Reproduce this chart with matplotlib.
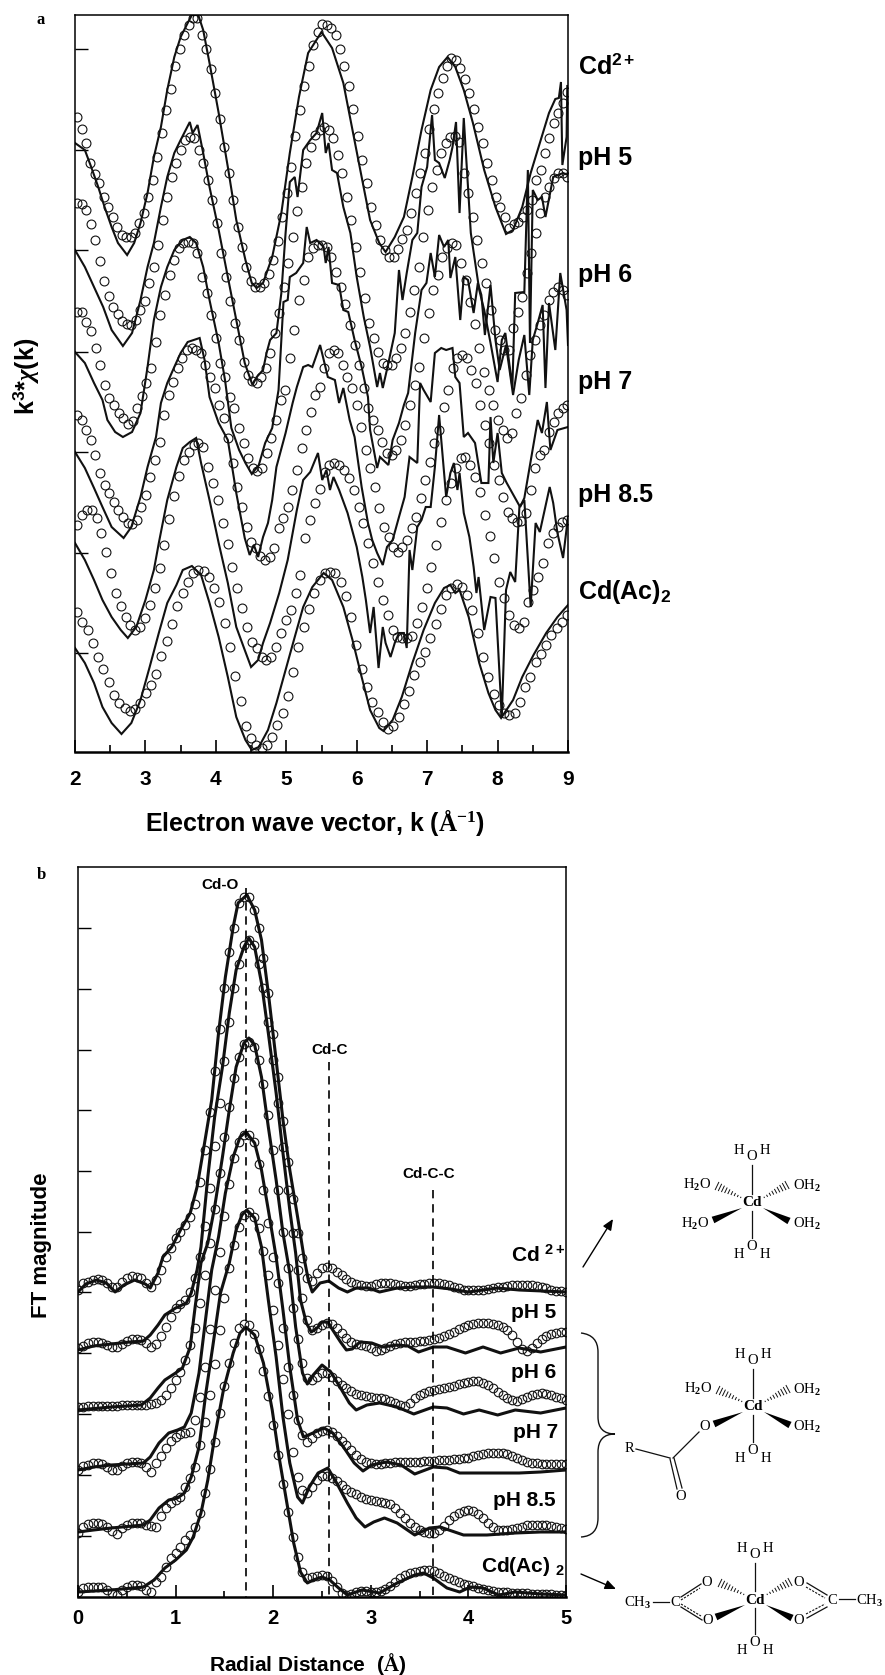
import numpy as np
import matplotlib
matplotlib.use("Agg")
import matplotlib.pyplot as plt
from matplotlib.path import Path
from matplotlib.patches import PathPatch, Polygon

plt.rcParams.update({
    'font.family': 'Liberation Sans', 'font.weight': 'bold',
    'mathtext.fontset': 'custom', 'mathtext.bf': 'Liberation Serif:bold',
    'mathtext.rm': 'Liberation Serif', 'mathtext.sf': 'Liberation Sans:bold',
    'mathtext.it': 'Liberation Serif:italic',
})

# ---------- Panel a: k3*chi(k), stacked (arbitrary units, increasing downward)
a_names = [r"Cd$^{\mathsf{2+}}$", "pH 5", "pH 6", "pH 7", "pH 8.5", r"Cd(Ac)$_{\mathsf{2}}$"]
a_label_pos = [66, 158, 275, 382, 495, 592]
a_yticks = [49, 150, 250, 352, 452, 553, 653]

fit_cd = [117,129,143,163,174,183,197,207,217,227,235,237,237,233,223,213,197,180,157,133,110,89,66,49,35,25,18,18,35,49,69,93,119,147,173,200,227,247,267,281,287,287,283,274,260,241,217,193,167,136,110,86,66,45,32,24,25,28,35,49,66,86,109,136,160,183,207,225,240,250,257,257,249,239,230,213,193,173,153,129,109,93,78,66,58,60,68,79,93,109,127,143,163,180,197,207,217,228,224,222,217,210,200,180,170,153,138,123,113,103,92]
fit_ph5 = [203,204,210,224,240,261,281,296,307,314,321,324,325,320,310,301,283,267,245,220,197,177,163,150,140,137,138,150,163,180,200,223,253,277,301,323,340,362,375,381,383,377,368,353,333,313,287,263,237,211,187,163,147,135,130,127,130,138,155,173,197,220,247,272,298,323,338,352,363,365,365,358,348,333,312,290,267,237,210,187,170,153,143,137,136,142,173,193,217,240,263,283,310,330,340,350,350,328,312,297,273,253,233,213,197,187,178,173,173,177]
fit_ph6 = [312,312,322,331,348,365,385,398,405,413,418,424,421,408,396,383,368,342,315,295,275,260,248,243,242,243,253,277,293,315,338,363,377,397,408,428,443,458,468,471,468,453,438,420,400,390,358,330,300,280,257,248,245,245,247,257,272,287,304,325,345,365,388,408,420,430,442,453,455,450,440,425,405,385,367,338,313,290,275,257,248,243,245,263,280,302,324,348,372,390,405,420,430,438,433,413,398,375,355,340,325,315,300,292,287,290,295]
fit_ph7 = [415,420,430,440,455,473,485,493,502,510,517,523,524,520,507,495,477,460,442,415,395,382,368,358,350,348,350,353,365,377,388,405,418,438,463,487,507,527,542,548,556,560,557,548,528,518,507,490,470,448,430,412,395,387,368,353,350,353,365,377,388,405,427,450,468,487,508,527,537,547,552,547,540,528,517,498,480,462,443,430,407,390,368,358,355,358,370,383,405,425,443,465,480,497,512,518,522,521,513,490,468,455,450,432,422,413,408,405]
fit_ph85 = [525,515,510,510,518,533,552,573,593,606,617,625,630,627,618,605,588,568,545,519,496,476,460,452,445,443,447,467,483,500,523,544,567,588,608,627,642,648,657,660,657,647,633,620,610,593,575,538,520,503,489,472,465,463,465,470,478,490,507,523,543,563,582,600,615,630,637,638,638,636,623,607,588,567,545,522,500,483,468,458,457,465,477,492,515,536,558,582,598,615,625,628,622,602,590,577,563,543,533,527,522,520]
fit_ac = [612,622,630,643,657,669,682,695,703,708,711,709,703,693,685,674,656,641,624,606,593,582,573,570,571,577,588,602,623,647,676,701,726,738,745,748,745,737,725,713,696,672,647,627,609,593,580,573,572,573,582,596,617,645,669,687,702,712,722,729,726,717,704,691,675,662,652,638,624,609,595,588,584,587,595,610,633,657,677,694,705,713,715,713,702,687,677,662,654,645,635,628,622,615]

exp_cd = [(2,143),(2.14,150),(2.23,167),(2.33,187),(2.42,207),(2.52,227),(2.61,243),(2.74,255),(2.84,243),(2.93,223),(3.03,193),(3.12,157),(3.22,127),(3.31,90),(3.41,57),(3.5,37),(3.6,23),(3.66,15),(3.75,15),(3.82,30),(3.91,63),(4.04,113),(4.17,167),(4.29,220),(4.42,260),(4.51,283),(4.58,288),(4.67,283),(4.8,257),(4.93,213),(5.05,153),(5.18,97),(5.31,53),(5.5,32),(5.65,48),(5.81,83),(5.94,130),(6.07,177),(6.19,220),(6.32,243),(6.41,252),(6.54,237),(6.67,217),(6.79,177),(6.92,130),(7.05,90),(7.17,67),(7.29,57),(7.4,67),(7.52,90),(7.65,123),(7.81,170),(7.97,207),(8.12,234),(8.22,230),(8.35,207),(8.47,173),(8.6,143),(8.73,113),(8.82,99),(8.87,98),(8.9,82),(8.92,165),(8.98,137),(8.99,86),(9,86)]
exp_ph5 = [(2,250),(2.14,267),(2.27,287),(2.4,307),(2.52,330),(2.68,346),(2.81,333),(2.93,300),(3.03,267),(3.12,243),(3.22,207),(3.31,177),(3.41,153),(3.5,140),(3.63,122),(3.67,133),(3.74,125),(3.82,153),(3.91,187),(4.04,230),(4.17,277),(4.29,320),(4.41,363),(4.52,385),(4.58,377),(4.67,370),(4.72,353),(4.77,340),(4.86,333),(4.93,293),(4.99,233),(5.05,182),(5.12,177),(5.16,197),(5.24,150),(5.34,140),(5.43,133),(5.51,113),(5.56,153),(5.6,143),(5.65,170),(5.72,173),(5.81,207),(5.91,233),(6.0,277),(6.1,317),(6.19,347),(6.29,387),(6.33,373),(6.37,388),(6.45,363),(6.54,333),(6.6,270),(6.65,300),(6.71,273),(6.79,240),(6.86,233),(6.92,187),(7.0,167),(7.07,115),(7.11,160),(7.17,163),(7.25,178),(7.32,160),(7.36,147),(7.41,122),(7.46,213),(7.52,118),(7.62,233),(7.74,290),(7.81,310),(7.9,343),(8.0,382),(8.06,340),(8.11,333),(8.21,387),(8.25,293),(8.38,292),(8.43,170),(8.46,343),(8.5,190),(8.57,200),(8.63,197),(8.68,217),(8.79,177),(8.93,173),(9,175)]
exp_ph6 = [(2,352),(2.14,363),(2.27,383),(2.39,400),(2.46,420),(2.57,432),(2.68,437),(2.81,432),(2.93,413),(3.03,367),(3.12,320),(3.22,287),(3.31,267),(3.41,250),(3.53,240),(3.63,237),(3.72,243),(3.82,267),(3.91,300),(4.04,343),(4.13,380),(4.22,428),(4.33,450),(4.42,463),(4.51,474),(4.61,465),(4.7,443),(4.8,428),(4.89,390),(4.96,302),(5.02,300),(5.05,277),(5.14,273),(5.24,263),(5.29,227),(5.34,243),(5.43,240),(5.53,247),(5.56,263),(5.6,247),(5.65,283),(5.75,285),(5.81,310),(5.88,312),(5.97,340),(6.07,367),(6.16,397),(6.19,430),(6.29,468),(6.33,457),(6.45,465),(6.51,440),(6.6,423),(6.67,405),(6.73,393),(6.83,333),(6.92,290),(6.99,283),(7.05,253),(7.11,277),(7.17,235),(7.24,247),(7.3,240),(7.33,278),(7.4,257),(7.47,320),(7.52,277),(7.58,280),(7.66,313),(7.72,283),(7.77,295),(7.82,335),(7.9,285),(7.97,340),(8.03,370),(8.12,345),(8.22,395),(8.3,360),(8.38,335),(8.45,395),(8.5,340),(8.57,323),(8.64,305),(8.68,388),(8.73,303),(8.82,350),(8.89,273),(8.98,310),(9,345)]
exp_ph7 = [(2,452),(2.14,468),(2.27,488),(2.39,507),(2.52,527),(2.69,538),(2.8,527),(2.93,497),(3.03,467),(3.15,437),(3.22,403),(3.31,383),(3.41,367),(3.5,353),(3.6,342),(3.77,338),(3.84,360),(3.91,397),(4.04,423),(4.17,440),(4.29,493),(4.41,538),(4.48,555),(4.54,545),(4.6,557),(4.67,537),(4.74,523),(4.8,500),(4.86,467),(4.99,433),(5.09,403),(5.15,387),(5.24,367),(5.31,365),(5.37,367),(5.48,345),(5.59,377),(5.69,380),(5.75,403),(5.81,388),(5.9,420),(5.97,437),(6.07,487),(6.16,523),(6.22,540),(6.29,553),(6.37,565),(6.43,547),(6.51,540),(6.6,517),(6.68,497),(6.75,457),(6.86,463),(6.9,383),(6.95,390),(7.05,402),(7.11,353),(7.2,348),(7.27,350),(7.36,348),(7.4,377),(7.46,383),(7.52,437),(7.58,433),(7.68,443),(7.77,483),(7.87,483),(7.9,417),(7.94,463),(8.0,433),(8.06,473),(8.13,483),(8.32,507),(8.38,498),(8.57,420),(8.63,433),(8.7,402),(8.75,450),(8.85,430),(9,427)]
exp_ph85 = [(2,543),(2.14,560),(2.27,580),(2.39,600),(2.52,617),(2.65,630),(2.75,638),(2.87,627),(3.0,600),(3.12,570),(3.19,543),(3.31,500),(3.44,467),(3.53,448),(3.63,442),(3.72,438),(3.79,463),(3.91,500),(4.04,543),(4.17,583),(4.29,627),(4.41,650),(4.5,667),(4.6,660),(4.67,643),(4.72,633),(4.77,623),(4.9,593),(5.02,560),(5.15,510),(5.24,480),(5.34,472),(5.45,453),(5.51,480),(5.57,470),(5.62,490),(5.67,477),(5.75,490),(5.87,513),(6.0,547),(6.08,577),(6.13,600),(6.19,633),(6.24,607),(6.31,668),(6.37,627),(6.41,643),(6.48,657),(6.54,643),(6.6,633),(6.67,633),(6.71,648),(6.75,550),(6.79,570),(6.86,527),(6.92,520),(6.98,507),(7.05,507),(7.11,467),(7.17,415),(7.27,497),(7.33,473),(7.38,463),(7.43,490),(7.46,473),(7.52,513),(7.6,537),(7.66,567),(7.7,593),(7.73,577),(7.81,630),(7.9,597),(7.97,598),(8.06,717),(8.12,590),(8.18,572),(8.25,582),(8.31,507),(8.38,500),(8.47,607),(8.54,523),(8.6,532),(8.74,487),(8.79,503),(8.85,533),(8.93,558),(9,517)]
exp_ac = [(2,648),(2.14,663),(2.27,683),(2.39,707),(2.52,723),(2.66,734),(2.8,723),(2.93,700),(3.06,667),(3.19,633),(3.31,603),(3.44,585),(3.53,570),(3.66,566),(3.79,575),(3.91,603),(4.04,637),(4.17,677),(4.29,717),(4.42,740),(4.51,750),(4.61,747),(4.74,730),(4.86,703),(4.99,670),(5.12,637),(5.24,607),(5.37,587),(5.53,573),(5.65,580),(5.81,607),(5.94,640),(6.07,677),(6.19,710),(6.32,728),(6.38,731),(6.51,720),(6.64,697),(6.79,663),(6.95,630),(7.11,603),(7.24,588),(7.33,585),(7.4,593),(7.46,590),(7.59,617),(7.74,663),(7.87,693),(7.97,710),(8.05,718),(8.22,700),(8.35,677),(8.51,655),(8.69,633),(8.85,617),(9,605)]

# ---------- Panel b: FT magnitude, stacked (R grid 0.05 A)
b_names = [r"Cd $^{\mathsf{2+}}$", "pH 5", "pH 6", "pH 7", "pH 8.5", r"Cd(Ac) $_{\mathsf{2}}$"]
b_label_pos = [1255, 1313, 1372, 1433, 1500, 1567]
b_label_right = [565, 556, 556, 558, 556, 565]
b_yticks = [928, 989, 1050, 1110, 1171, 1232, 1292, 1353, 1414, 1475, 1536]
shell_r = [1.72, 2.57, 3.64]
shell_top = [888, 1062, 1190]
shell_names = ["Cd-O", "Cd-C", "Cd-C-C"]

ft_fit_cd = [1290,1283,1282,1280,1279,1280,1283,1287,1287,1282,1278,1276,1277,1278,1283,1287,1280,1270,1257,1248,1238,1232,1225,1217,1204,1182,1150,1112,1071,1029,988,952,928,903,897,897,910,928,958,993,1034,1077,1121,1162,1199,1233,1258,1278,1281,1273,1268,1267,1268,1272,1275,1279,1282,1284,1285,1286,1286,1284,1283,1283,1283,1284,1285,1286,1286,1285,1284,1284,1283,1283,1283,1284,1285,1287,1288,1290,1290,1290,1290,1290,1289,1288,1287,1287,1286,1285,1285,1285,1285,1285,1286,1287,1288,1290,1291,1291,1292]
ft_fit_ph5 = [1348,1346,1343,1342,1342,1343,1345,1347,1347,1344,1341,1339,1339,1340,1343,1347,1344,1336,1327,1317,1308,1304,1300,1292,1278,1257,1226,1188,1146,1103,1061,1022,988,964,945,940,945,964,988,1022,1060,1103,1147,1190,1233,1270,1298,1320,1330,1328,1325,1323,1324,1328,1333,1338,1342,1344,1345,1346,1348,1351,1350,1348,1346,1344,1343,1342,1342,1342,1341,1341,1340,1339,1338,1336,1334,1332,1329,1327,1325,1324,1323,1323,1323,1324,1325,1327,1330,1335,1342,1349,1351,1348,1343,1339,1336,1334,1333,1332,1332]
ft_fit_ph6 = [1407,1407,1406,1406,1406,1406,1406,1406,1406,1405,1405,1405,1405,1405,1405,1404,1403,1400,1395,1388,1380,1372,1360,1345,1328,1303,1275,1243,1209,1173,1137,1107,1078,1057,1044,1042,1047,1060,1084,1115,1150,1190,1232,1268,1308,1339,1363,1378,1380,1377,1373,1373,1377,1381,1385,1388,1391,1394,1395,1396,1397,1398,1398,1399,1401,1403,1405,1406,1403,1398,1395,1393,1391,1390,1389,1388,1387,1386,1384,1383,1382,1381,1381,1383,1385,1388,1392,1395,1398,1400,1401,1399,1397,1395,1394,1393,1394,1395,1397,1398,1400]
ft_fit_ph7 = [1470,1466,1465,1463,1463,1464,1467,1470,1470,1466,1463,1462,1462,1463,1467,1472,1463,1456,1448,1441,1437,1434,1433,1432,1420,1397,1367,1329,1290,1252,1216,1184,1158,1142,1135,1135,1142,1164,1190,1223,1257,1283,1328,1367,1395,1420,1435,1442,1438,1433,1431,1430,1432,1436,1441,1445,1450,1455,1459,1462,1463,1464,1464,1463,1463,1462,1462,1462,1462,1462,1462,1461,1461,1461,1460,1460,1460,1459,1459,1458,1458,1456,1455,1454,1453,1453,1453,1453,1454,1456,1458,1460,1462,1463,1463,1464,1464,1464,1464,1464,1464]
ft_fit_ph85 = [1533,1527,1524,1523,1523,1524,1527,1531,1534,1528,1525,1523,1523,1523,1525,1526,1527,1516,1508,1503,1500,1497,1487,1478,1467,1445,1422,1395,1364,1330,1298,1268,1245,1227,1215,1212,1217,1228,1251,1275,1310,1345,1379,1414,1452,1477,1490,1493,1487,1480,1476,1476,1478,1481,1485,1489,1492,1494,1497,1499,1500,1501,1502,1503,1504,1508,1513,1518,1523,1527,1530,1532,1533,1533,1530,1526,1520,1516,1513,1511,1510,1511,1514,1518,1523,1527,1530,1530,1530,1529,1528,1527,1525,1525,1525,1525,1525,1526,1527,1528,1529]
ft_fit_ac = [1592,1588,1587,1587,1587,1587,1590,1593,1595,1590,1587,1585,1585,1586,1590,1592,1582,1577,1567,1558,1553,1547,1540,1535,1527,1513,1493,1469,1442,1413,1386,1363,1343,1328,1324,1325,1334,1349,1371,1396,1425,1455,1484,1512,1537,1557,1572,1578,1577,1576,1575,1576,1581,1587,1593,1595,1594,1592,1591,1591,1592,1592,1591,1589,1586,1582,1578,1575,1573,1572,1571,1570,1570,1571,1573,1576,1578,1580,1582,1584,1585,1586,1588,1589,1590,1591,1592,1592,1592,1593,1593,1593,1593,1594,1594,1594,1594,1594,1595,1595,1595]

ft_exp_cd = [(0,1292),(.08,1284),(.19,1280),(.29,1283),(.38,1292),(.47,1285),(.58,1280),(.69,1284),(.74,1288),(.82,1273),(.87,1257),(.96,1247),(1.05,1230),(1.15,1213),(1.22,1187),(1.29,1147),(1.37,1100),(1.44,1033),(1.51,977),(1.59,927),(1.64,903),(1.73,895),(1.81,910),(1.88,940),(1.95,993),(2.03,1060),(2.1,1120),(2.17,1170),(2.25,1217),(2.32,1260),(2.36,1280),(2.4,1292),(2.48,1283),(2.57,1281),(2.67,1288),(2.76,1292),(2.85,1288),(2.98,1288),(3.09,1292),(3.27,1288),(3.45,1287),(3.64,1287),(3.82,1289),(4.0,1292),(4.3,1288),(4.52,1290),(5,1292)]
ft_exp_ph5 = [(0,1350),(.16,1346),(.34,1344),(.53,1342),(.67,1341),(.74,1335),(.82,1325),(.89,1315),(1.0,1308),(1.11,1303),(1.16,1293),(1.22,1270),(1.26,1247),(1.33,1177),(1.4,1117),(1.48,1067),(1.55,1013),(1.62,970),(1.7,947),(1.75,938),(1.81,947),(1.88,983),(1.95,1033),(2.03,1093),(2.1,1153),(2.17,1210),(2.23,1253),(2.28,1300),(2.34,1323),(2.39,1332),(2.45,1328),(2.5,1322),(2.56,1322),(2.61,1330),(2.69,1342),(2.75,1350),(2.81,1349),(2.89,1342),(3.01,1343),(3.12,1347),(3.27,1345),(3.38,1346),(3.49,1352),(3.64,1347),(3.78,1347),(3.97,1353),(4.15,1347),(4.33,1353),(4.52,1348),(4.74,1352),(5,1347)]
ft_exp_ph6 = [(0,1410),(.34,1407),(.65,1405),(.74,1398),(.82,1388),(.89,1380),(1.0,1373),(1.07,1368),(1.15,1347),(1.2,1307),(1.26,1263),(1.33,1243),(1.4,1207),(1.48,1157),(1.55,1110),(1.62,1067),(1.7,1043),(1.75,1038),(1.81,1045),(1.88,1077),(1.95,1127),(2.03,1180),(2.1,1233),(2.17,1273),(2.23,1327),(2.3,1373),(2.35,1384),(2.41,1375),(2.5,1365),(2.59,1372),(2.69,1388),(2.78,1403),(2.85,1410),(2.96,1405),(3.09,1403),(3.27,1407),(3.44,1414),(3.64,1407),(3.78,1408),(3.95,1414),(4.11,1410),(4.3,1415),(4.48,1410),(4.74,1413),(5,1408)]
ft_exp_ph7 = [(0,1470),(.16,1467),(.34,1465),(.67,1463),(.74,1457),(.83,1443),(.93,1433),(1.02,1430),(1.09,1427),(1.16,1413),(1.24,1373),(1.31,1317),(1.37,1270),(1.44,1237),(1.51,1193),(1.59,1157),(1.66,1137),(1.72,1132),(1.81,1143),(1.88,1170),(1.95,1210),(2.03,1257),(2.1,1310),(2.17,1367),(2.25,1420),(2.31,1437),(2.36,1435),(2.43,1432),(2.52,1428),(2.61,1433),(2.72,1447),(2.83,1463),(2.92,1471),(3.01,1465),(3.16,1462),(3.31,1465),(3.45,1474),(3.64,1467),(3.78,1468),(3.91,1473),(4.11,1473),(4.33,1473),(4.52,1473),(4.74,1472),(5,1470)]
ft_exp_ph85 = [(0,1532),(.16,1530),(.34,1528),(.67,1525),(.74,1520),(.83,1508),(.93,1500),(1.02,1498),(1.09,1493),(1.16,1477),(1.24,1447),(1.31,1393),(1.38,1347),(1.46,1293),(1.55,1263),(1.62,1230),(1.68,1215),(1.73,1210),(1.81,1218),(1.88,1247),(1.95,1300),(2.03,1357),(2.1,1417),(2.17,1463),(2.25,1497),(2.3,1503),(2.37,1487),(2.46,1473),(2.56,1468),(2.65,1483),(2.76,1503),(2.85,1518),(2.94,1527),(3.03,1522),(3.14,1518),(3.27,1523),(3.45,1535),(3.6,1528),(3.71,1527),(3.95,1535),(4.19,1535),(4.48,1533),(4.74,1532),(5,1532)]
ft_exp_ac = [(0,1592),(.34,1590),(.67,1587),(.78,1580),(.89,1568),(1.0,1560),(1.11,1550),(1.18,1537),(1.26,1513),(1.33,1480),(1.4,1437),(1.49,1390),(1.59,1353),(1.66,1333),(1.72,1327),(1.81,1335),(1.9,1363),(1.99,1410),(2.06,1457),(2.14,1503),(2.21,1543),(2.28,1572),(2.35,1583),(2.41,1580),(2.5,1577),(2.58,1580),(2.67,1588),(2.76,1595),(2.91,1590),(3.09,1593),(3.27,1583),(3.45,1575),(3.54,1573),(3.64,1578),(3.78,1588),(3.91,1592),(4.02,1587),(4.15,1588),(4.31,1595),(4.48,1592),(4.74,1594),(5,1595)]

W, H = 885, 1675
fig = plt.figure(figsize=(W / 100, H / 100), dpi=100)

def make_axes(l, r, t, b):
    return fig.add_axes([l / W, 1 - b / H, (r - l) / W, (b - t) / H])

# ---------- panel a
axa = make_axes(75, 568, 15, 752)
axa.set_xlim(2, 9)
axa.set_ylim(752, 15)
for fit, exp in zip([fit_cd, fit_ph5, fit_ph6, fit_ph7, fit_ph85, fit_ac],
                    [exp_cd, exp_ph5, exp_ph6, exp_ph7, exp_ph85, exp_ac]):
    e = np.array(exp)
    axa.plot(e[:, 0], e[:, 1], color='#111111', lw=1.5, solid_joinstyle='miter')
    axa.plot(np.linspace(2.03, 8.99, len(fit)), fit, ls='none', marker='o', ms=6.4,
             mfc='none', mec='#111111', mew=0.8)
axa.set_xticks(range(2, 10))
axa.set_xticks(np.arange(2.5, 9, 1), minor=True)
axa.set_yticks(a_yticks)
axa.set_yticklabels([])
axa.tick_params(axis='x', which='major', direction='in', length=9, width=1.2, labelsize=15, pad=13)
axa.tick_params(axis='x', which='minor', direction='in', length=5, width=1.2)
axa.tick_params(axis='y', direction='in', length=9, width=1.0)
for s in axa.spines.values():
    s.set_linewidth(1.1)
axa.spines['bottom'].set_linewidth(1.8)

# ---------- panel b
axb = make_axes(78, 566, 867, 1597)
axb.set_xlim(0, 5)
axb.set_ylim(1597, 867)
r_grid = np.arange(101) * 0.05
for fit, exp in zip([ft_fit_cd, ft_fit_ph5, ft_fit_ph6, ft_fit_ph7, ft_fit_ph85, ft_fit_ac],
                    [ft_exp_cd, ft_exp_ph5, ft_exp_ph6, ft_exp_ph7, ft_exp_ph85, ft_exp_ac]):
    e = np.array(exp)
    axb.plot(e[:, 0], e[:, 1], color='#111111', lw=2.2)
    axb.plot(r_grid, fit, ls='none', marker='o', ms=6.2, mfc='none', mec='#111111', mew=0.8)
for r, top in zip(shell_r, shell_top):
    axb.plot([r, r], [top, 1597], color='black', lw=1.2, dashes=(5, 3.5))
axb.set_xticks(range(0, 6))
axb.set_xticks(np.arange(0.5, 5, 1), minor=True)
axb.set_yticks(b_yticks)
axb.set_yticklabels([])
axb.tick_params(axis='x', which='major', direction='in', length=9, width=1.2, labelsize=14.5, pad=9)
axb.tick_params(axis='x', which='minor', direction='in', length=4.5, width=1.2)
axb.tick_params(axis='y', direction='in', length=9, width=1.0)
for s in axb.spines.values():
    s.set_linewidth(1.1)
axb.spines['bottom'].set_linewidth(1.8)

# ---------- overlay in figure pixels for all annotation
ov = fig.add_axes([0, 0, 1, 1], facecolor='none')
ov.set_xlim(0, W)
ov.set_ylim(H, 0)
ov.axis('off')

def T(x, y, s, size, ha='left', va='center', **kw):
    ov.text(x, y, s, fontsize=size, ha=ha, va=va, **kw)

for name, y in zip(a_names, a_label_pos):
    T(578, y, name, 18)
for name, y, xr in zip(b_names, b_label_pos, b_label_right):
    T(xr, y, name, 15, ha='right')
T(41, 20, 'a', 12, ha='center', family='Liberation Serif')
T(41, 875, 'b', 12, ha='center', family='Liberation Serif')
T(315, 822, r"Electron wave vector, k ($\mathbf{Å}^{\mathbf{-1}}$)", 18, ha='center')
T(26, 376, r"k$^{\mathsf{3}}$*$\chi$(k)", 18, ha='center', rotation=90)
T(308, 1664, r"Radial Distance  ($\mathbf{Å}$)", 15, ha='center')
T(42, 1245, "FT magnitude", 16, ha='center', rotation=90)
for name, x, y in zip(shell_names, [220, 330, 429], [885, 1050, 1174]):
    T(x, y, name, 11, ha='center')

SER = dict(family='Liberation Serif', fontweight='normal')

def chem(x, y, s, size=10.5, **kw):
    style = dict(SER)
    style.update(kw)
    ov.text(x, y, s, fontsize=size, ha='center', va='center', **style)

def bond(x0, y0, x1, y1, lw=0.9, **kw):
    ov.plot([x0, x1], [y0, y1], color='#111111', lw=lw, **kw)

def wedge(x0, y0, x1, y1, w=3.5):
    dx, dy = x1 - x0, y1 - y0
    n = np.hypot(dx, dy)
    px, py = -dy / n * w, dx / n * w
    ov.add_patch(Polygon([(x0, y0), (x1 + px, y1 + py), (x1 - px, y1 - py)], fc='black', ec='none'))

def hashed(x0, y0, x1, y1, n=9, w=4.0):
    dx, dy = x1 - x0, y1 - y0
    L = np.hypot(dx, dy)
    px, py = -dy / L, dx / L
    for f in np.linspace(0.05, 1, n):
        cx, cy = x0 + dx * f, y0 + dy * f
        h = w * f
        bond(cx - px * h, cy - py * h, cx + px * h, cy + py * h, lw=0.7)

H2O = r"H$_{\mathrm{2}}$O"
OH2 = r"OH$_{\mathrm{2}}$"

def octa(cx, cy, top_o, bot_o, lowleft=True):
    chem(cx, cy, 'Cd', size=11, fontweight='bold')
    chem(cx - 13, top_o - 7, 'H'); chem(cx, top_o, 'O'); chem(cx + 13, top_o - 7, 'H')
    chem(cx - 13, bot_o + 8, 'H'); chem(cx, bot_o, 'O'); chem(cx + 13, bot_o + 8, 'H')
    bond(cx, top_o + 8, cx, cy - 9)
    bond(cx, cy + 8, cx, bot_o - 9)
    hashed(cx - 10, cy - 5, cx - 35, cy - 17)
    hashed(cx + 11, cy - 5, cx + 35, cy - 18)
    wedge(cx - 10, cy + 5, cx - 39, cy + 17)
    wedge(cx + 11, cy + 5, cx + 37, cy + 18)

# structure 1
octa(752, 1203, 1157, 1247)
chem(697, 1185, H2O); chem(807, 1186, OH2); chem(695, 1224, H2O); chem(807, 1224, OH2)
# structure 2
octa(753, 1407, 1361, 1451)
chem(698, 1389, H2O); chem(807, 1390, OH2); chem(705, 1427, 'O'); chem(807, 1427, OH2)
chem(629, 1449, 'R')
bond(636, 1449, 670, 1458); bond(673, 1458, 699, 1432)
bond(670, 1459, 677, 1489); bond(674, 1458, 682, 1488)
chem(681, 1497, 'O')
# structure 3
octa(755, 1600, 1555, 1643)
chem(707, 1583, 'O'); chem(708, 1621, 'O'); chem(799, 1582, 'O'); chem(799, 1621, 'O')
chem(638, 1603, r"CH$_{\mathrm{3}}$"); chem(675, 1603, 'C'); chem(832, 1601, 'C'); chem(870, 1601, r"CH$_{\mathrm{3}}$")
bond(653, 1602, 669, 1602); bond(839, 1599, 855, 1599)
bond(681, 1597, 701, 1584); bond(681, 1607, 702, 1620)
bond(681, 1600, 700, 1588, lw=0.8, ls=(0, (2, 1.2))); bond(681, 1604, 701, 1616, lw=0.8, ls=(0, (2, 1.2)))
bond(807, 1583, 827, 1595); bond(807, 1618, 827, 1607)
bond(806, 1587, 825, 1598, lw=0.8, ls=(0, (2, 1.2))); bond(806, 1614, 825, 1604, lw=0.8, ls=(0, (2, 1.2)))

# bracket
C3 = Path.CURVE3
verts = [(581, 1333), (598, 1335), (598, 1352), (598, 1417), (598, 1434), (615, 1434),
         (598, 1434), (598, 1452), (598, 1518), (598, 1536), (581, 1537)]
codes = [Path.MOVETO, C3, C3, Path.LINETO, C3, C3, C3, C3, Path.LINETO, C3, C3]
ov.add_patch(PathPatch(Path(verts, codes), fc='none', ec='#111111', lw=1.0))

# arrows
for start, end in [((583, 1267), (613, 1219)), ((581, 1574), (616, 1589))]:
    ov.annotate('', xy=end, xytext=start,
                arrowprops=dict(arrowstyle='-|>,head_length=0.65,head_width=0.28', color='black',
                                lw=1.0, shrinkA=0, shrinkB=0))

fig.savefig('out.png', dpi=100)
